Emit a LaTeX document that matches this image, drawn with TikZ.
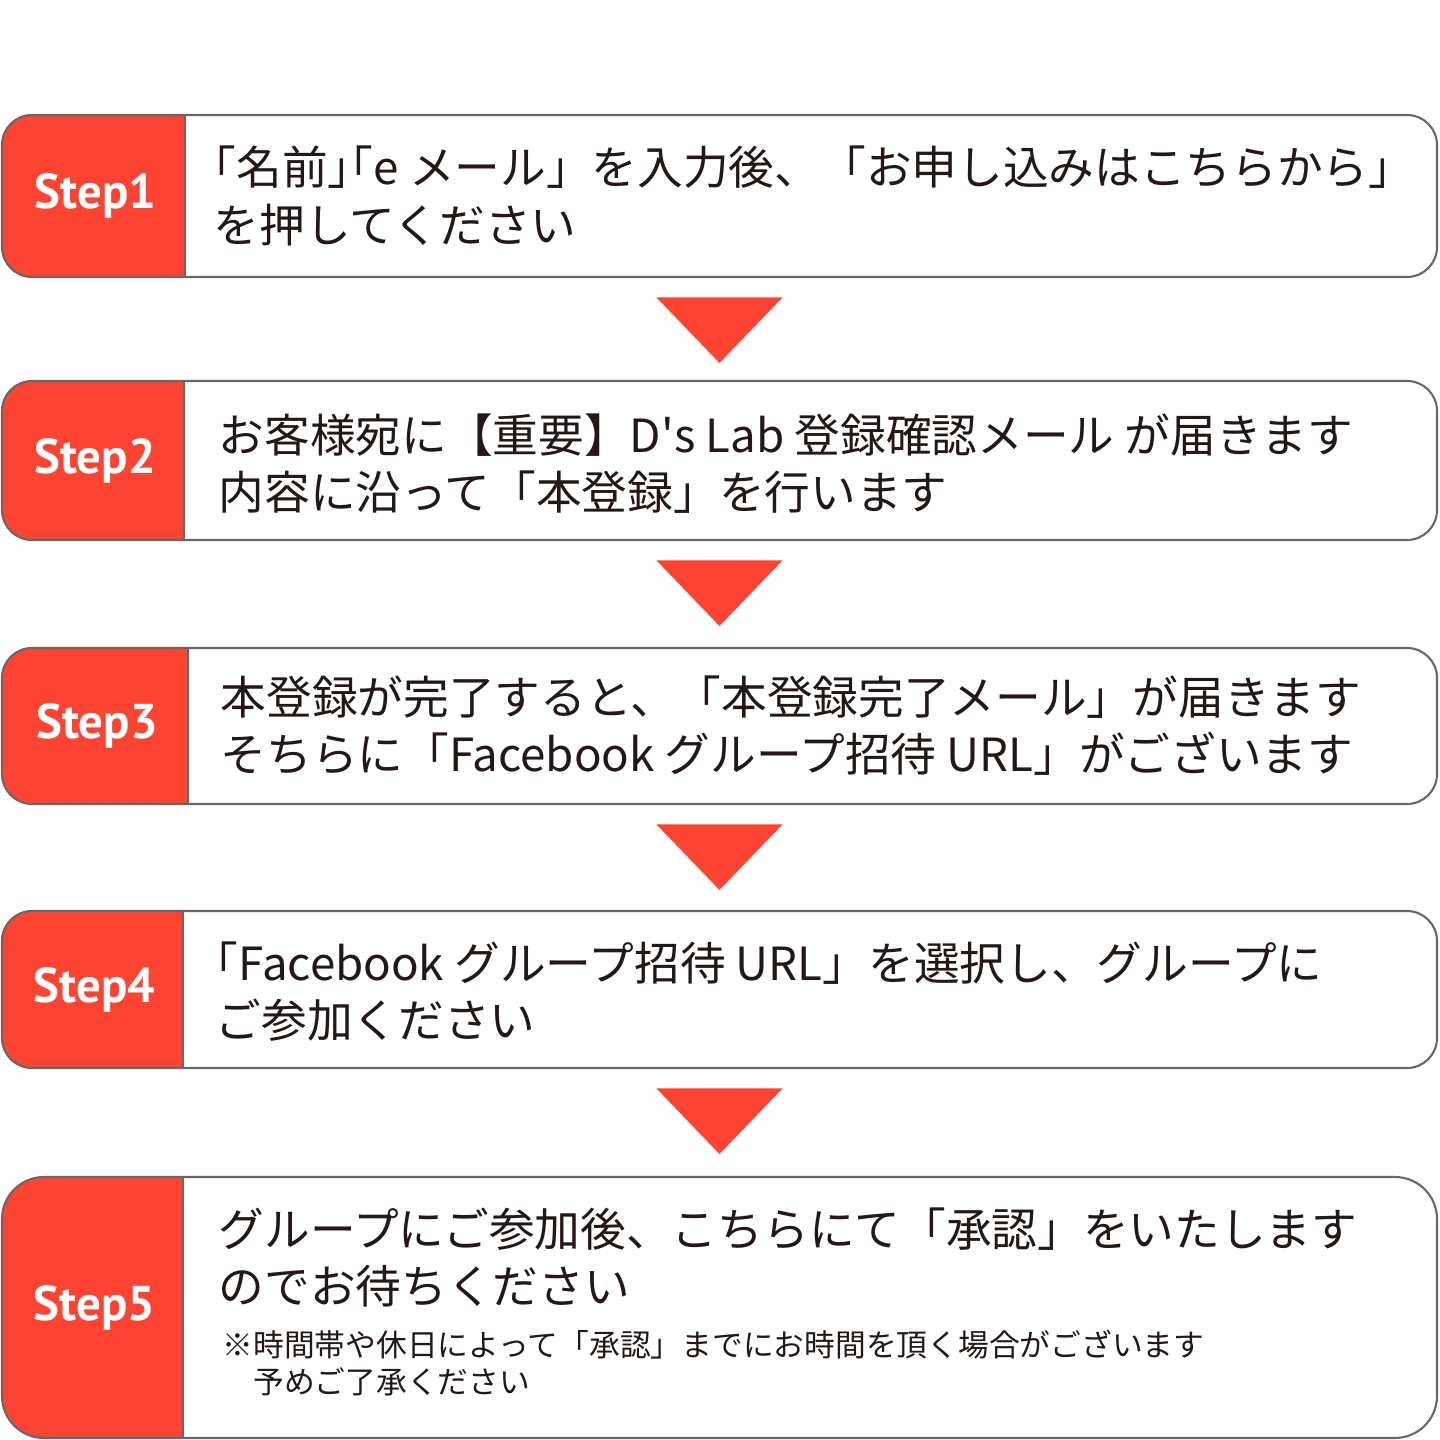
\documentclass[tikz,border=0pt]{standalone}
\usepackage{fontspec}
\setmainfont{Noto Sans CJK JP}
\newfontfamily\halfpunct{Noto Sans CJK JP}[RawFeature=+halt]
\newfontfamily\stepfont{PT Sans}
\usetikzlibrary{positioning,calc}
\definecolor{ink}{HTML}{231815}
\definecolor{stepred}{HTML}{FD4331}
\definecolor{edge}{HTML}{6B6767}
\newcommand{\hp}[1]{{\halfpunct #1}}
\tikzset{
  card/.style={fill=white, minimum width=14.35cm, inner sep=0pt, outer sep=0pt},
  frame/.style={draw=edge, line width=0.6pt, rounded corners=#1},
  frame/.default=0.3cm,
  tag/.style={font=\stepfont\bfseries\fontsize{13.9}{13.9}\selectfont, text=white, inner sep=0pt},
  msg/.style={font=\fontsize{13}{16.3}\selectfont, text=ink, align=left, anchor=west, inner sep=0pt},
  note/.style={font=\fontsize{8.75}{10.6}\selectfont, text=ink, align=left, anchor=west, inner sep=0pt},
  down/.style={fill=stepred},
}

\begin{document}
\begin{tikzpicture}
  \useasboundingbox (0,0) rectangle (14.39,14.40);
  \foreach \y/\h/\r/\rc [count=\i] in {12.44/1.62/1.83/0.3, 9.795/1.59/1.82/0.3,
      7.14/1.56/1.86/0.3, 4.505/1.57/1.81/0.3, 1.325/2.61/1.81/0.42} {
    \node[card, minimum height=\h cm] (c\i) at (7.195,\y) {};
    \begin{scope}
      \clip[rounded corners=\rc cm] (c\i.north west) rectangle (c\i.south east);
      \fill[stepred] (c\i.north west) rectangle ($(c\i.south west)+(\r,0)$);
    \end{scope}
    \draw[edge, line width=0.6pt] ($(c\i.north west)+(\r,0)$) -- ($(c\i.south west)+(\r,0)$);
    \draw[frame=\rc cm] (c\i.north west) rectangle (c\i.south east);
    \node[tag] (s\i) at ($(c\i.west)+(\r/2+0.02,0)$) {Step\i};
  }
  \foreach \i in {1,...,4}
    \fill[down] ($(c\i.south)+(-0.63,-0.205)$) -- ++(1.26,0) -- ++(-0.63,-0.655) -- cycle;

  \node[msg] (t1) at ($(c1.west)+(2.11,0)$) {\hp{「}名前\hp{」「}e メール」を入力後、「お申し込みはこちらから\hp{」}\\を押してください};
  \node[msg] (t2) at ($(c2.west)+(2.16,-0.03)$) {お客様宛に【重要】D\textquotesingle s Lab 登録確認メール が届きます\\内容に沿って「本登録」を行います};
  \node[msg] (t3) at ($(c3.west)+(2.18,0)$) {本登録が完了すると、「本登録完了メール」が届きます\\そちらに「Facebook グループ招待 URL」がございます};
  \node[msg] (t4) at ($(c4.west)+(2.13,-0.02)$) {\hp{「}Facebook グループ招待 URL」を選択し、グループに\\ご参加ください};
  \node[msg] (t5) at ($(c5.west)+(2.16,0.5)$) {グループにご参加後、こちらにて「承認」をいたします\\のでお待ちください};
  \node[note] (n5) at ($(c5.west)+(2.2,-0.555)$) {※時間帯や休日によって「承認」までにお時間を頂く場合がございます\\　予めご了承ください};
\end{tikzpicture}
\end{document}
